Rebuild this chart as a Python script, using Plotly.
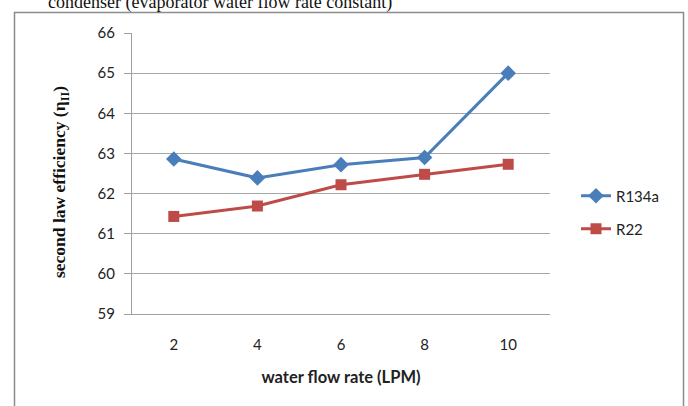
import plotly.graph_objects as go

flow_rates = ["2", "4", "6", "8", "10"]
r134a = [62.86, 62.39, 62.72, 62.90, 65.00]
r22 = [61.43, 61.69, 62.22, 62.48, 62.73]
y_ticks = [59, 60, 61, 62, 63, 64, 65, 66]

W, H = 688, 406
L, R, T, B = 132, 550, 33, 314  # plot area pixels

def px(x):
    return (x - L) / (R - L)

def py(y):
    return (B - y) / (B - T)

tick_font = dict(family="Lato, Calibri, sans-serif", size=15, color="#222222")

fig = go.Figure()
fig.add_trace(go.Scatter(
    x=flow_rates, y=r134a, name="R134a", mode="lines+markers",
    line=dict(color="#4A7EBB", width=3),
    marker=dict(symbol="diamond", size=12, color="#4A7EBB"),
    legend="legend",
))
fig.add_trace(go.Scatter(
    x=flow_rates, y=r22, name="R22", mode="lines+markers",
    line=dict(color="#BE4B48", width=3),
    marker=dict(symbol="square", size=11, color="#BE4B48"),
    legend="legend2",
))

fig.update_layout(
    width=W, height=H,
    margin=dict(l=L, r=W - R, t=T, b=H - B),
    paper_bgcolor="white", plot_bgcolor="white",
    font=tick_font,
    xaxis=dict(
        type="category", range=[-0.5, 4.5],
        showline=True, linecolor="#A0A0A0", linewidth=1,
        showgrid=False, ticks="", ticklabelstandoff=17,
        tickfont=tick_font,
        title=dict(text="<b>water flow rate (LPM)</b>",
                   font=dict(family="Lato, Calibri, sans-serif", size=16.5, color="#222222"),
                   standoff=19),
    ),
    yaxis=dict(
        range=[59, 66], tickvals=y_ticks,
        showline=True, linecolor="#A0A0A0", linewidth=1,
        showgrid=True, gridcolor="#A6A6A6", gridwidth=1,
        ticks="outside", ticklen=7, tickcolor="#A0A0A0",
        ticklabelstandoff=6,
        tickfont=tick_font, zeroline=False,
    ),
    legend=dict(x=px(576), y=py(196), xanchor="left", yanchor="middle",
                font=tick_font, bgcolor="rgba(0,0,0,0)"),
    legend2=dict(x=px(576), y=py(229), xanchor="left", yanchor="middle",
                 font=tick_font, bgcolor="rgba(0,0,0,0)"),
    showlegend=True,
)

# y-axis title (serif, bold)
fig.add_annotation(
    text="<b>second law efficiency (η<sub>II</sub>)</b>",
    xref="paper", yref="paper", x=px(60), y=py(182),
    xanchor="center", yanchor="middle", textangle=-90, showarrow=False,
    font=dict(family="Liberation Serif, Times New Roman, serif", size=17.5, color="#111111"),
)

# clipped caption line above the chart
fig.add_annotation(
    text="condenser (evaporator water flow rate constant)",
    xref="paper", yref="paper", x=px(394), y=py(15),
    xanchor="right", yanchor="bottom", showarrow=False,
    font=dict(family="Liberation Serif, Times New Roman, serif", size=18, color="#111111"),
)

# outer chart border
fig.add_shape(
    type="rect", xref="paper", yref="paper",
    x0=px(14.5), x1=px(683.5), y0=py(430), y1=py(12.5),
    line=dict(color="#8C8C8C", width=1.5), fillcolor="rgba(0,0,0,0)", layer="below",
)

fig.write_html("out.html", config={"displayModeBar": False},
               post_script="document.body.style.margin='0';")
